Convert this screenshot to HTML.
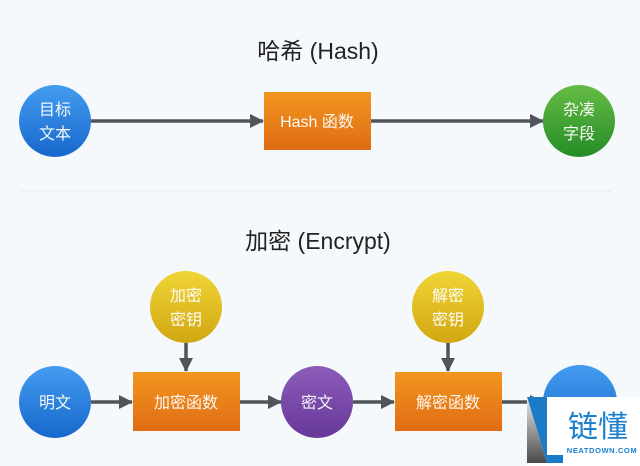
<!DOCTYPE html>
<html><head><meta charset="utf-8"><style>
html,body{margin:0;padding:0;background:#f6f9fc;}
svg{display:block}
text{font-family:"Liberation Sans","Noto Sans CJK SC",sans-serif;}
</style></head><body>
<svg width="640" height="466" viewBox="0 0 640 466" xmlns="http://www.w3.org/2000/svg">
<defs>
<linearGradient id="gb" x1="0" y1="0" x2="0" y2="1"><stop offset="0" stop-color="#449cf0"/><stop offset="1" stop-color="#1768cb"/></linearGradient>
<linearGradient id="go" x1="0" y1="0" x2="0" y2="1"><stop offset="0" stop-color="#f2961f"/><stop offset="1" stop-color="#e06c14"/></linearGradient>
<linearGradient id="gg" x1="0" y1="0" x2="0" y2="1"><stop offset="0" stop-color="#66bc45"/><stop offset="1" stop-color="#258c27"/></linearGradient>
<linearGradient id="gy" x1="0" y1="0" x2="0" y2="1"><stop offset="0" stop-color="#f0d536"/><stop offset="1" stop-color="#d1a712"/></linearGradient>
<linearGradient id="gp" x1="0" y1="0" x2="0" y2="1"><stop offset="0" stop-color="#8d5cbb"/><stop offset="1" stop-color="#663898"/></linearGradient>
<linearGradient id="gl" x1="0" y1="0" x2="0" y2="1"><stop offset="0" stop-color="#e8e8e8"/><stop offset="1" stop-color="#4a4a4a"/></linearGradient>
<marker id="ar" markerWidth="14" markerHeight="14" refX="13" refY="7" orient="auto" markerUnits="userSpaceOnUse"><path d="M0,0 L14,7 L0,14 z" fill="#50555c"/></marker>
</defs>
<rect width="640" height="466" fill="#f6f9fc"/>
<text x="318" y="59" font-size="23" fill="#222" text-anchor="middle">哈希 (Hash)</text>
<g stroke="#50555c" stroke-width="3.5" marker-end="url(#ar)" fill="none">
<line x1="91" y1="121" x2="263" y2="121"/>
<line x1="371" y1="121" x2="543" y2="121"/>
<line x1="91" y1="402" x2="132" y2="402"/>
<line x1="240" y1="402" x2="281" y2="402"/>
<line x1="353" y1="402" x2="394" y2="402"/>
<line x1="502" y1="402" x2="543" y2="402"/>
<line x1="186" y1="343" x2="186" y2="371"/>
<line x1="448" y1="343" x2="448" y2="371"/>
</g>
<circle cx="55" cy="121" r="36" fill="url(#gb)"/>
<rect x="264" y="92" width="107" height="58" fill="url(#go)"/>
<circle cx="579" cy="121" r="36" fill="url(#gg)"/>
<line x1="20" y1="191" x2="612" y2="191" stroke="#d6dadf" stroke-width="1" stroke-dasharray="1,1"/>
<text x="318" y="249" font-size="23" fill="#222" text-anchor="middle">加密 (Encrypt)</text>
<circle cx="186" cy="307" r="36" fill="url(#gy)"/>
<circle cx="448" cy="307" r="36" fill="url(#gy)"/>
<circle cx="55" cy="402" r="36" fill="url(#gb)"/>
<rect x="133" y="372" width="107" height="59" fill="url(#go)"/>
<circle cx="317" cy="402" r="36" fill="url(#gp)"/>
<rect x="395" y="372" width="107" height="59" fill="url(#go)"/>
<circle cx="580" cy="402" r="37" fill="url(#gb)"/>
<g fill="#fff" font-size="16" text-anchor="middle" opacity="0.95">
<text x="55" y="115">目标</text><text x="55" y="139">文本</text>
<text x="317" y="127">Hash 函数</text>
<text x="579" y="115">杂凑</text><text x="579" y="139">字段</text>
<text x="186" y="301">加密</text><text x="186" y="325">密钥</text>
<text x="448" y="301">解密</text><text x="448" y="325">密钥</text>
<text x="55" y="408">明文</text>
<text x="186" y="408">加密函数</text>
<text x="317" y="408">密文</text>
<text x="448" y="408">解密函数</text>
</g>
<rect x="527" y="397" width="113" height="69" fill="#fff"/>
<polygon points="527,397 547,397 547,455 563,455 563,463 547,463" fill="#1a7bc8"/>
<polygon points="527,397 547,463 527,463" fill="url(#gl)"/>
<text x="598" y="437" font-size="30" fill="#1a7fcc" text-anchor="middle">链懂</text>
<text x="602" y="453" font-size="7.5" font-weight="bold" fill="#1a7fcc" text-anchor="middle" letter-spacing="0.6">NEATDOWN.COM</text>
</svg>
</body></html>
